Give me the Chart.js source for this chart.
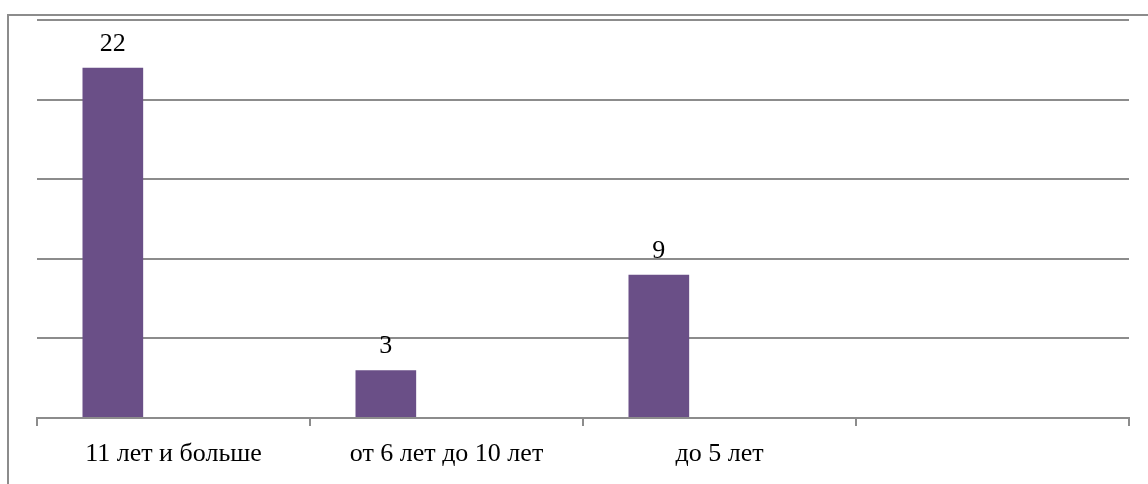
<!DOCTYPE html>
<html>
<head>
<meta charset="utf-8">
<script src="https://cdn.jsdelivr.net/npm/chart.js@4"></script>
<style>
  html, body { margin: 0; padding: 0; background: #fff; }
  #wrap { position: relative; width: 1148px; height: 484px; }
  #frame { position: absolute; left: 7px; top: 14px; width: 1160px; height: 500px;
           border-left: 2px solid #8c8c8c; border-top: 2px solid #8c8c8c; box-sizing: border-box; }
  canvas { position: absolute; left: 0; top: 0; }
</style>
</head>
<body>
<div id="wrap">
  <div id="frame"></div>
  <canvas id="grafico" width="1148" height="484"></canvas>
</div>
<script>
const categorias = ['11 лет и больше', 'от 6 лет до 10 лет', 'до 5 лет', ''];
const serie1 = [22, 3, 9, null];
const serie2 = [null, null, null, null];
const serie3 = [null, null, null, null];
const yTicks = [0, 5, 10, 15, 20, 25];

// value labels above the bars
const rotulos = {
  id: 'rotulos',
  afterDatasetsDraw(chart) {
    const ctx = chart.ctx;
    const meta = chart.getDatasetMeta(0);
    ctx.save();
    ctx.fillStyle = '#000';
    ctx.font = '26px "Liberation Serif", "Times New Roman", serif';
    ctx.textAlign = 'center';
    ctx.textBaseline = 'alphabetic';
    meta.data.forEach((bar, i) => {
      const v = serie1[i];
      if (v == null) return;
      ctx.fillText(String(v), bar.x, bar.y - 17);
    });
    ctx.restore();
  }
};

document.addEventListener("DOMContentLoaded", function () {
  const ctx = document.getElementById('grafico').getContext('2d');

  const chart = new Chart(ctx, {
    type: 'bar',
    data: {
      labels: categorias,
      datasets: [
        { label: 'Ряд 1', data: serie1, backgroundColor: '#6a4f87', borderWidth: 0 },
        { label: 'Ряд 2', data: serie2, backgroundColor: '#4f81bd', borderWidth: 0 },
        { label: 'Ряд 3', data: serie3, backgroundColor: '#c0504d', borderWidth: 0 }
      ]
    },
    options: {
      responsive: false,
      animation: false,
      layout: { padding: { top: 20, right: 19, left: 0, bottom: 0 } },
      datasets: { bar: { categoryPercentage: 3 / 4.5, barPercentage: 1 } },
      plugins: {
        legend: { display: false },
        tooltip: { enabled: false }
      },
      scales: {
        x: {
          grid: { offset: true, drawOnChartArea: false, color: '#8c8c8c', lineWidth: 2, tickLength: 8 },
          border: { color: '#8c8c8c', width: 2 },
          ticks: {
            color: '#000',
            padding: 13,
            font: { family: '"Liberation Serif", "Times New Roman", serif', size: 26 }
          },
          afterFit: s => { s.height = 66; }
        },
        y: {
          min: 0,
          max: 25,
          afterBuildTicks: s => { s.ticks = yTicks.map(v => ({ value: v })); },
          grid: { color: '#8c8c8c', lineWidth: 2, drawTicks: false },
          border: { display: false },
          ticks: { display: false },
          afterFit: s => { s.width = 37; }
        }
      }
    },
    plugins: [rotulos]
  });
});
</script>
</body>
</html>
